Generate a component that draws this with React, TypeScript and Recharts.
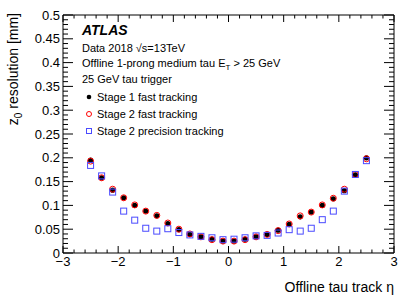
import React from "react";
import { ScatterChart, Scatter, XAxis, YAxis } from "recharts";

// eta bin centres
const eta = [
  -2.5, -2.3, -2.1, -1.9, -1.7, -1.5, -1.3, -1.1, -0.9, -0.7, -0.5, -0.3, -0.1,
  0.1, 0.3, 0.5, 0.7, 0.9, 1.1, 1.3, 1.5, 1.7, 1.9, 2.1, 2.3, 2.5,
];

// z0 resolution [mm]
const stage1Fast = [
  0.195, 0.158, 0.132, 0.116, 0.1, 0.088, 0.078, 0.062, 0.049, 0.039, 0.034, 0.029, 0.025,
  0.025, 0.029, 0.034, 0.039, 0.048, 0.06, 0.076, 0.086, 0.1, 0.114, 0.131, 0.164, 0.2,
];
const stage2Fast = [
  0.193, 0.158, 0.134, 0.116, 0.101, 0.088, 0.079, 0.063, 0.05, 0.04, 0.034, 0.028, 0.025,
  0.025, 0.028, 0.034, 0.039, 0.047, 0.061, 0.078, 0.086, 0.101, 0.115, 0.134, 0.165, 0.198,
];
const stage2Precision = [
  0.184, 0.162, 0.128, 0.088, 0.069, 0.052, 0.046, 0.051, 0.043, 0.038, 0.035, 0.032, 0.028,
  0.029, 0.032, 0.036, 0.037, 0.042, 0.049, 0.046, 0.052, 0.07, 0.088, 0.13, 0.165, 0.194,
];

const xMajor = [-3, -2, -1, 0, 1, 2, 3];
const xLabels = ["\u22123", "\u22122", "\u22121", "0", "1", "2", "3"];
const yMajor = [0, 0.05, 0.1, 0.15, 0.2, 0.25, 0.3, 0.35, 0.4, 0.45, 0.5];
const yLabels = ["0", "0.05", "0.1", "0.15", "0.2", "0.25", "0.3", "0.35", "0.4", "0.45", "0.5"];

const FONT = "'Liberation Sans', Arial, Helvetica, sans-serif";

// minor tick positions (0.2 in eta, 0.01 in mm)
const xTicks: number[] = [];
for (let i = 0; i <= 30; i++) xTicks.push(Math.round((-3 + i * 0.2) * 10) / 10);
const yTicks: number[] = [];
for (let i = 0; i <= 50; i++) yTicks.push(Math.round(i) / 100);

const isMajor = (v: number, majors: number[]) => majors.some((m) => Math.abs(m - v) < 1e-6);

const toPoints = (ys: number[]) => eta.map((x, i) => ({ x, y: ys[i] }));

function XTick(props: any) {
  const { x, y, payload, top } = props;
  const major = isMajor(payload.value, xMajor);
  const len = major ? 7 : 3.5;
  const dir = top ? 1 : -1;
  const idx = xMajor.findIndex((m) => Math.abs(m - payload.value) < 1e-6);
  return (
    <g>
      <line x1={x} x2={x} y1={y} y2={y + dir * len} stroke="#000" strokeWidth={1} />
      {!top && major && (
        <text x={x} y={y + 13} textAnchor="middle" fontSize={13} fontFamily={FONT} fill="#000">
          {xLabels[idx]}
        </text>
      )}
    </g>
  );
}

function YTick(props: any) {
  const { x, y, payload, right } = props;
  const major = isMajor(payload.value, yMajor);
  const len = major ? 10 : 5;
  const dir = right ? -1 : 1;
  const idx = yMajor.findIndex((m) => Math.abs(m - payload.value) < 1e-6);
  return (
    <g>
      <line x1={x} x2={x + dir * len} y1={y} y2={y} stroke="#000" strokeWidth={1} />
      {!right && major && (
        <text x={x - 3} y={y + 4.5} textAnchor="end" fontSize={13} fontFamily={FONT} fill="#000">
          {yLabels[idx]}
        </text>
      )}
    </g>
  );
}

const Dot = (p: any) => <circle cx={p.cx} cy={p.cy} r={2.6} fill="#000" />;
const Ring = (p: any) => (
  <circle cx={p.cx} cy={p.cy} r={3} fill="none" stroke="#ff0000" strokeWidth={1} />
);
const Square = (p: any) => (
  <rect x={p.cx - 3} y={p.cy - 3} width={6} height={6} fill="none" stroke="#4a4aff" strokeWidth={1} />
);

export default function App() {
  const W = 415;
  const H = 298;
  return (
    <div style={{ position: "absolute", left: 0, top: 0, width: W, height: H, background: "#fff" }}>
      <ScatterChart width={W} height={H} margin={{ top: 0, right: 0, bottom: 0, left: 0 }}>
        <XAxis
          xAxisId="b"
          type="number"
          dataKey="x"
          domain={[-3, 3]}
          ticks={xTicks}
          interval={0}
          height={45}
          tickSize={0}
          tickMargin={0}
          tickLine={false}
          axisLine={{ stroke: "#000" }}
          tick={<XTick />}
          allowDataOverflow
        />
        <XAxis
          xAxisId="t"
          orientation="top"
          type="number"
          dataKey="x"
          domain={[-3, 3]}
          ticks={xTicks}
          interval={0}
          height={15}
          tickSize={0}
          tickMargin={0}
          tickLine={false}
          axisLine={{ stroke: "#000" }}
          tick={<XTick top />}
          allowDataOverflow
        />
        <YAxis
          yAxisId="l"
          type="number"
          dataKey="y"
          domain={[0, 0.5]}
          ticks={yTicks}
          interval={0}
          width={63}
          tickSize={0}
          tickMargin={0}
          tickLine={false}
          axisLine={{ stroke: "#000" }}
          tick={<YTick />}
          allowDataOverflow
        />
        <YAxis
          yAxisId="r"
          orientation="right"
          type="number"
          dataKey="y"
          domain={[0, 0.5]}
          ticks={yTicks}
          interval={0}
          width={21}
          tickSize={0}
          tickMargin={0}
          tickLine={false}
          axisLine={{ stroke: "#000" }}
          tick={<YTick right />}
          allowDataOverflow
        />
        <Scatter xAxisId="b" yAxisId="l" data={toPoints(stage1Fast)} shape={Dot} isAnimationActive={false} />
        <Scatter xAxisId="b" yAxisId="l" data={toPoints(stage2Fast)} shape={Ring} isAnimationActive={false} />
        <Scatter xAxisId="b" yAxisId="l" data={toPoints(stage2Precision)} shape={Square} isAnimationActive={false} />
      </ScatterChart>
      <svg
        width={W}
        height={H}
        style={{ position: "absolute", left: 0, top: 0, pointerEvents: "none" }}
        fontFamily={FONT}
      >
        <text transform="rotate(-90)" x={-13} y={18} textAnchor="end" fontSize={14} fill="#000">
          z<tspan fontSize={10} dy={4}>0</tspan>
          <tspan dy={-4}> resolution [mm]</tspan>
        </text>
        <text x={394} y={292} textAnchor="end" fontSize={14} fill="#000">
          Offline tau track η
        </text>
        <text x={82} y={35} fontSize={14} fontWeight="bold" fontStyle="italic" fill="#000">
          ATLAS
        </text>
        <text x={82} y={52} fontSize={11} fill="#000">
          Data 2018 √s=13TeV
        </text>
        <text x={82} y={67} fontSize={11} fill="#000">
          Offline 1-prong medium tau E<tspan fontSize={8} dy={3}>T</tspan>
          <tspan dy={-3}> &gt; 25 GeV</tspan>
        </text>
        <text x={82} y={83} fontSize={11} fill="#000">
          25 GeV tau trigger
        </text>
        <circle cx={89} cy={97} r={2.3} fill="#000" />
        <text x={97} y={101} fontSize={11} fill="#000">
          Stage 1 fast tracking
        </text>
        <circle cx={89} cy={114} r={2.5} fill="none" stroke="#ff0000" strokeWidth={1} />
        <text x={97} y={118} fontSize={11} fill="#000">
          Stage 2 fast tracking
        </text>
        <rect x={86.5} y={128.5} width={5} height={5} fill="none" stroke="#4a4aff" strokeWidth={1} />
        <text x={97} y={135} fontSize={11} fill="#000">
          Stage 2 precision tracking
        </text>
      </svg>
    </div>
  );
}
